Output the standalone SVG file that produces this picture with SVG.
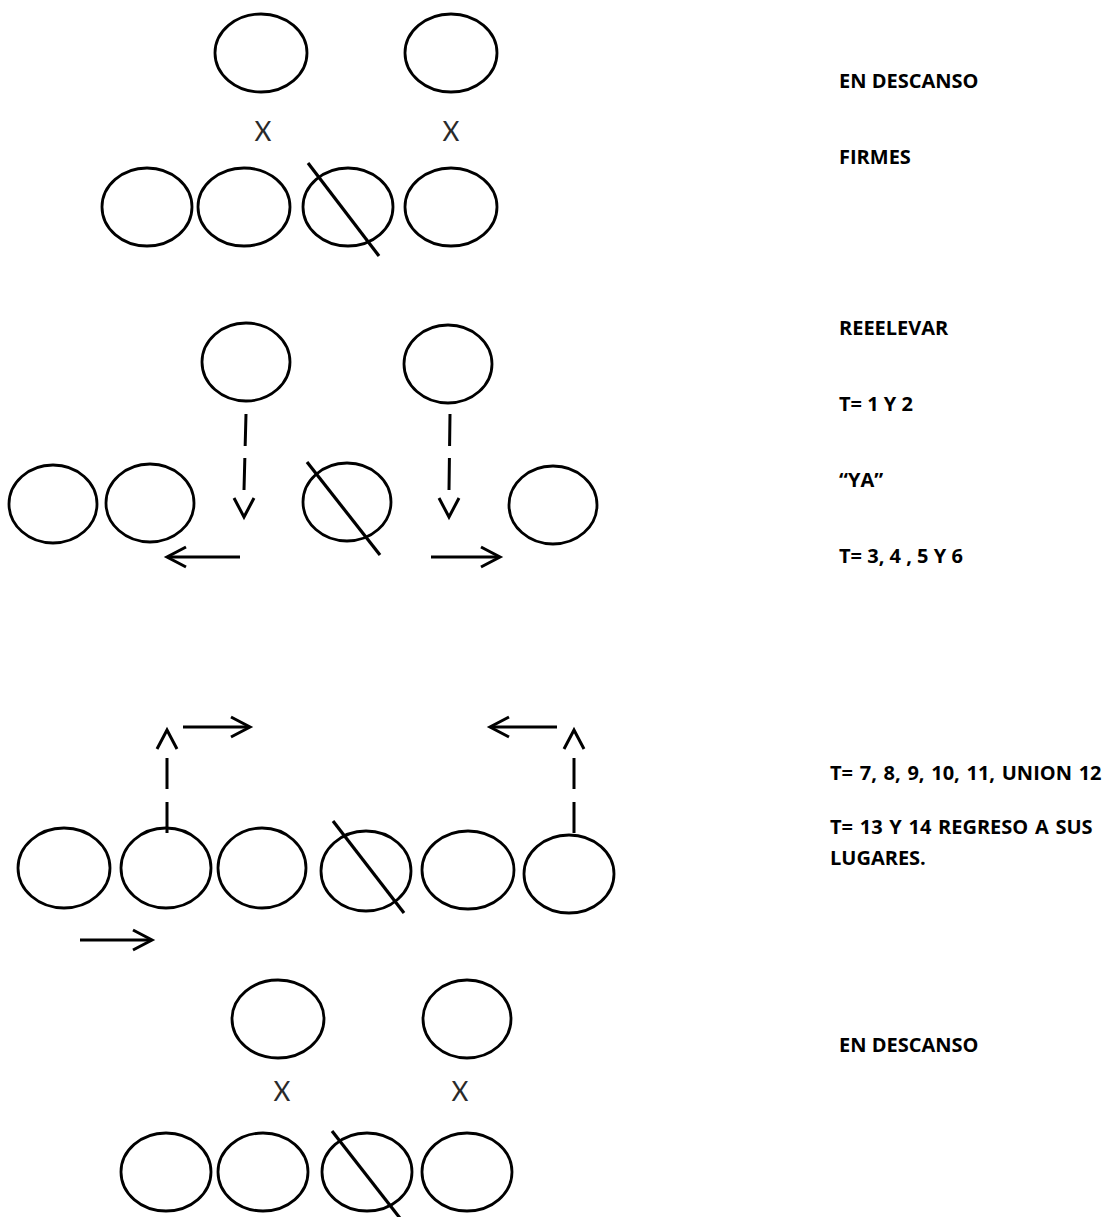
<svg xmlns="http://www.w3.org/2000/svg" xmlns:xlink="http://www.w3.org/1999/xlink" width="1105" height="1217" viewBox="0 0 1105 1217">
<style>
.p{fill:none;stroke:#000;stroke-width:2.8}
.s{stroke:#000;stroke-width:3.2;fill:none}
.ln{stroke:#000;stroke-width:3;fill:none}
.ds{stroke:#000;stroke-width:3;fill:none;stroke-dasharray:32 12}
.x{font-family:Lato,"Open Sans",sans-serif;font-size:26px;fill:#2a2a2a;text-anchor:middle}
.t{font-family:"Open Sans",Lato,sans-serif;font-weight:bold;font-size:20px;fill:#000}
.w{word-spacing:1.5px}
</style>
<defs>
<path id="ah" d="M-19,-10 L0,0 L-19,10" fill="none" stroke="#000" stroke-width="3" stroke-linejoin="miter"/>
</defs>
<rect width="1105" height="1217" fill="#fff"/>

<!-- Section 1 -->
<g id="s1-top-1"><ellipse class="p" cx="261" cy="53" rx="46" ry="39"/></g>
<g id="s1-top-2"><ellipse class="p" cx="451" cy="53" rx="46" ry="39"/></g>
<g id="s1-x-1"><text class="x" x="263" y="141">X</text></g>
<g id="s1-x-2"><text class="x" x="451" y="141">X</text></g>
<g id="s1-row-1"><ellipse class="p" cx="147" cy="207" rx="45" ry="39"/></g>
<g id="s1-row-2"><ellipse class="p" cx="244" cy="207" rx="46" ry="39"/></g>
<g id="s1-row-3"><ellipse class="p" cx="348" cy="207" rx="45" ry="39"/><line class="s" x1="308" y1="163" x2="379" y2="256"/></g>
<g id="s1-row-4"><ellipse class="p" cx="451" cy="207" rx="46" ry="39"/></g>

<!-- Section 2 -->
<g id="s2-top-1"><ellipse class="p" cx="246" cy="362" rx="44" ry="39"/></g>
<g id="s2-top-2"><ellipse class="p" cx="448" cy="364" rx="44" ry="39"/></g>
<g id="s2-row-1"><ellipse class="p" cx="53" cy="504" rx="44" ry="39"/></g>
<g id="s2-row-2"><ellipse class="p" cx="150" cy="503" rx="44" ry="39"/></g>
<g id="s2-row-3"><ellipse class="p" cx="347" cy="502" rx="44" ry="39"/><line class="s" x1="307" y1="462" x2="380" y2="555"/></g>
<g id="s2-row-4"><ellipse class="p" cx="553" cy="505" rx="44" ry="39"/></g>

<!-- Section 3 -->
<g id="s3-row-1"><ellipse class="p" cx="64" cy="868" rx="46" ry="40"/></g>
<g id="s3-row-2"><ellipse class="p" cx="166" cy="868" rx="45" ry="40"/></g>
<g id="s3-row-3"><ellipse class="p" cx="262" cy="868" rx="44" ry="40"/></g>
<g id="s3-row-4"><ellipse class="p" cx="366" cy="871" rx="45" ry="40"/><line class="s" x1="333" y1="821" x2="404" y2="913"/></g>
<g id="s3-row-5"><ellipse class="p" cx="468" cy="870" rx="46" ry="39"/></g>
<g id="s3-row-6"><ellipse class="p" cx="569" cy="874" rx="45" ry="39"/></g>

<!-- Section 4 -->
<g id="s4-top-1"><ellipse class="p" cx="278" cy="1019" rx="46" ry="39"/></g>
<g id="s4-top-2"><ellipse class="p" cx="467" cy="1019" rx="44" ry="39"/></g>
<g id="s4-x-1"><text class="x" x="282" y="1101">X</text></g>
<g id="s4-x-2"><text class="x" x="460" y="1101">X</text></g>
<g id="s4-row-1"><ellipse class="p" cx="166" cy="1172" rx="45" ry="39"/></g>
<g id="s4-row-2"><ellipse class="p" cx="263" cy="1172" rx="45" ry="39"/></g>
<g id="s4-row-3"><ellipse class="p" cx="367" cy="1172" rx="45" ry="39"/><line class="s" x1="332" y1="1131" x2="403" y2="1222"/></g>
<g id="s4-row-4"><ellipse class="p" cx="467" cy="1172" rx="45" ry="39"/></g>

<!-- Labels -->
<g id="lbl-1"><text class="t" x="839" y="88">EN DESCANSO</text></g>
<g id="lbl-2"><text class="t" x="839" y="164">FIRMES</text></g>
<g id="lbl-3"><text class="t" x="839" y="335">REEELEVAR</text></g>
<g id="lbl-4"><text class="t" x="839" y="411">T= 1 Y 2</text></g>
<g id="lbl-5"><text class="t" x="839" y="487">“YA”</text></g>
<g id="lbl-6"><text class="t" x="839" y="563">T= 3, 4 , 5 Y 6</text></g>
<g id="lbl-7"><text class="t w" x="830" y="780">T= 7, 8, 9, 10, 11, UNION 12</text></g>
<g id="lbl-8"><text class="t w" x="830" y="834">T= 13 Y 14 REGRESO A SUS</text><text class="t" x="830" y="865">LUGARES.</text></g>
<g id="lbl-9"><text class="t" x="839" y="1052">EN DESCANSO</text></g>

<!-- Connectors -->
<g id="connectors">
  <line class="ds" x1="246" y1="414" x2="244" y2="490"/>
  <use xlink:href="#ah" transform="translate(244,517) rotate(90)"/>
  <line class="ds" x1="450" y1="414" x2="449" y2="490"/>
  <use xlink:href="#ah" transform="translate(449,517) rotate(90)"/>
  <line class="ln" x1="240" y1="557" x2="168" y2="557"/>
  <use xlink:href="#ah" transform="translate(167,557) rotate(180)"/>
  <line class="ln" x1="431" y1="557" x2="499" y2="557"/>
  <use xlink:href="#ah" transform="translate(500,557)"/>

  <line class="ds" x1="167" y1="833" x2="167" y2="758" style="stroke-dasharray:31 13"/>
  <use xlink:href="#ah" transform="translate(167,730) rotate(-90)"/>
  <line class="ln" x1="183" y1="727" x2="249" y2="727"/>
  <use xlink:href="#ah" transform="translate(250,727)"/>
  <line class="ds" x1="574" y1="833" x2="574" y2="758" style="stroke-dasharray:31 13"/>
  <use xlink:href="#ah" transform="translate(574,730) rotate(-90)"/>
  <line class="ln" x1="557" y1="727" x2="491" y2="727"/>
  <use xlink:href="#ah" transform="translate(490,727) rotate(180)"/>
  <line class="ln" x1="80" y1="940" x2="151" y2="940"/>
  <use xlink:href="#ah" transform="translate(152,940)"/>
</g>
</svg>
